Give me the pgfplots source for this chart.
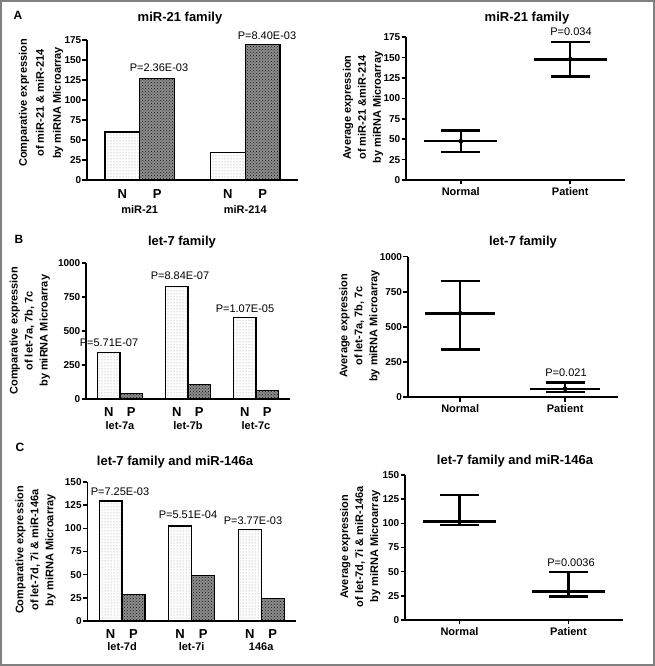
\documentclass[border=0pt]{standalone}
\usepackage{pgfplots}
\usepackage{pgfplotstable}
\pgfplotsset{compat=1.18}
\usetikzlibrary{patterns}
\usepackage{fontspec}
\setmainfont{Liberation Sans}

\newcommand{\fs}[2]{\fontsize{#1}{#2}\selectfont}

% bar data: group index, Normal, Patient
\pgfplotstableread{
g N P
0 60 127
1 34 169
}\barA
\pgfplotstableread{
g N P
0 341 38
1 828 105
2 599 62
}\barB
\pgfplotstableread{
g N P
0 129.5 29
1 102.5 49.5
2 98.5 24.5
}\barC

% scatter summaries: mean and range
\pgfplotstableread{
g m lo hi
0 47.5 34 60.5
1 148 127 169
}\scA
\pgfplotstableread{
g m lo hi
0 597 341 828
1 61 38 105
}\scB
\pgfplotstableread{
g m lo hi
0 102 98.5 129.5
1 29.3 24.5 49.5
}\scC

\pgfplotsset{
  panel/.style={
    scale only axis, anchor=south west, clip=false,
    axis x line*=bottom, axis y line*=left,
    axis line style={line width=1.6pt,-},
    every tick/.style={black, line width=1.6pt},
    tick align=outside, major tick length=4.5pt,
    ymin=0, xmin=-0.5, xmax=1.5,
    /pgf/number format/assume math mode=true,
    /pgf/number format/1000 sep={},
    yticklabel style={font=\bfseries\fs{10}{12}, inner sep=0pt, anchor=east, xshift=-1pt},
    ylabel style={font=\bfseries\fs{11}{15}, align=center, anchor=center},
  },
  barpanel/.style={panel, xtick style={draw=none},
    xticklabel style={font=\bfseries\fs{13}{15}, inner sep=0pt, anchor=base, yshift=-13pt},
    extra x tick style={xticklabel style={font=\bfseries\fs{11}{13}}}},
  scpanel/.style={panel, xtick={0,1}, xticklabels={Normal,Patient},
    xticklabel style={font=\bfseries\fs{11}{13}, inner sep=0pt, anchor=base, yshift=-11pt}},
  barN/.style={ybar, bar width=0.33, bar shift=0pt, draw=black, line width=1.2pt,
    fill=white, postaction={pattern=dots, pattern color=black!45}},
  barP/.style={ybar, bar width=0.33, bar shift=0pt, draw=black, line width=1.2pt,
    fill=black!45, postaction={pattern=crosshatch dots, pattern color=black!90}},
  range/.style={only marks, mark=none, black, forget plot,
    error bars/.cd, y dir=both, y explicit,
    error bar style={line width=2.4pt},
    error mark options={line width=2.4pt, mark size=19.5pt, rotate=90}},
  meanline/.style={only marks, mark=none, black, forget plot,
    error bars/.cd, x dir=both, x fixed=0.335, error mark=none,
    error bar style={line width=2.4pt}},
}

\begin{document}
\begin{tikzpicture}[x=1pt, y=1pt]
\useasboundingbox (0,0) rectangle (655,666);
\draw[black!50, line width=2pt] (1,1) rectangle (654,665);

% ---------- A ----------
\node[font=\bfseries\fs{12}{14}] at (18,651) {A};
\node[font=\bfseries\fs{13}{15}] at (180,648) {miR-21 family};
\node[font=\bfseries\fs{13}{15}] at (527,648) {miR-21 family};

\begin{axis}[barpanel, at={(87pt,486pt)}, width=211pt, height=140pt,
  ymax=175, ytick={0,25,...,175},
  xtick={-0.165,0.165,0.835,1.165}, xticklabels={N,P,N,P},
  xticklabel style={yshift=-1pt},
  extra x ticks={0,1}, extra x tick labels={miR-21,miR-214},
  extra x tick style={xticklabel style={yshift=-15pt}},
  ylabel={Comparative expression\\of miR-21 \& miR-214\\by miRNA Microarray},
  ylabel style={at={(axis description cs:-0.218,0.55)}, font=\bfseries\fs{11}{17}}]
\addplot[barN] table[x expr=\thisrow{g}-0.165, y=N] {\barA};
\addplot[barP] table[x expr=\thisrow{g}+0.165, y=P] {\barA};
\end{axis}
\node[font=\fs{11}{13}] at (159,598.5) {P=2.36E-03};
\node[font=\fs{11}{13}] at (267,630) {P=8.40E-03};

\begin{axis}[scpanel, at={(406pt,486pt)}, width=219pt, height=142.7pt,
  ymax=175, ytick={0,25,...,175},
  ylabel={Average expression\\of miR-21 \&miR-214\\by miRNA Microarray},
  ylabel style={at={(axis description cs:-0.196,0.508)}}]
\addplot[range] table[x=g, y=m, y error plus expr=\thisrow{hi}-\thisrow{m}, y error minus expr=\thisrow{m}-\thisrow{lo}] {\scA};
\addplot[meanline] table[x=g, y=m] {\scA};
\end{axis}
\node[font=\fs{11}{13}] at (571,634) {P=0.034};

% ---------- B ----------
\node[font=\bfseries\fs{12}{14}] at (19,427) {B};
\node[font=\bfseries\fs{13}{15}] at (182,424) {let-7 family};
\node[font=\bfseries\fs{13}{15}] at (523,424) {let-7 family};

\begin{axis}[barpanel, at={(86pt,267pt)}, width=204pt, height=135.7pt,
  xmax=2.5, ymax=1000, ytick={0,250,...,1000},
  xtick={-0.165,0.165,0.835,1.165,1.835,2.165}, xticklabels={N,P,N,P,N,P},
  extra x ticks={0,1,2}, extra x tick labels={let-7a,let-7b,let-7c},
  extra x tick style={xticklabel style={yshift=-13pt}},
  ylabel={Comparative expression\\of let-7a, 7b, 7c\\by miRNA Microarray},
  ylabel style={at={(axis description cs:-0.275,0.503)}}]
\addplot[barN] table[x expr=\thisrow{g}-0.165, y=N] {\barB};
\addplot[barP] table[x expr=\thisrow{g}+0.165, y=P] {\barB};
\end{axis}
\node[font=\fs{11}{13}] at (109,323.3) {P=5.71E-07};
\node[font=\fs{11}{13}] at (180,390) {P=8.84E-07};
\node[font=\fs{11}{13}] at (245,357) {P=1.07E-05};

\begin{axis}[scpanel, at={(407.7pt,268.7pt)}, width=210pt, height=140.6pt,
  ymax=1000, ytick={0,250,...,1000},
  ylabel={Average expression\\of let-7a, 7b, 7c\\by miRNA Microarray},
  ylabel style={at={(axis description cs:-0.23,0.508)}}]
\addplot[range] table[x=g, y=m, y error plus expr=\thisrow{hi}-\thisrow{m}, y error minus expr=\thisrow{m}-\thisrow{lo}] {\scB};
\addplot[meanline] table[x=g, y=m] {\scB};
\end{axis}
\node[font=\fs{11}{13}] at (566,293.3) {P=0.021};

% ---------- C ----------
\node[font=\bfseries\fs{12}{14}] at (20,219) {C};
\node[font=\bfseries\fs{13}{15}] at (175,204) {let-7 family and miR-146a};
\node[font=\bfseries\fs{13}{15}] at (515,205) {let-7 family and miR-146a};

\begin{axis}[barpanel, at={(87.3pt,45pt)}, width=208.7pt, height=139pt,
  xmax=2.5, ymax=150, ytick={0,25,...,150},
  xtick={-0.165,0.165,0.835,1.165,1.835,2.165}, xticklabels={N,P,N,P,N,P},
  extra x ticks={0,1,2}, extra x tick labels={let-7d,let-7i,146a},
  extra x tick style={xticklabel style={yshift=-12pt}},
  ylabel={Comparative expression\\of let-7d, 7i \& miR-146a\\by miRNA Microarray},
  ylabel style={at={(axis description cs:-0.248,0.51)}}]
\addplot[barN] table[x expr=\thisrow{g}-0.165, y=N] {\barC};
\addplot[barP] table[x expr=\thisrow{g}+0.165, y=P] {\barC};
\end{axis}
\node[font=\fs{11}{13}] at (120,174) {P=7.25E-03};
\node[font=\fs{11}{13}] at (188,151) {P=5.51E-04};
\node[font=\fs{11}{13}] at (253,145) {P=3.77E-03};

\begin{axis}[scpanel, at={(405pt,46pt)}, width=218pt, height=145pt,
  ymax=150, ytick={0,25,...,150},
  ylabel={Average expression\\of let-7d, 7i \& miR-146a\\by miRNA Microarray},
  ylabel style={at={(axis description cs:-0.205,0.506)}}]
\addplot[range] table[x=g, y=m, y error plus expr=\thisrow{hi}-\thisrow{m}, y error minus expr=\thisrow{m}-\thisrow{lo}] {\scC};
\addplot[meanline] table[x=g, y=m] {\scC};
\end{axis}
\node[font=\fs{11}{13}] at (571,103) {P=0.0036};
\end{tikzpicture}
\end{document}
